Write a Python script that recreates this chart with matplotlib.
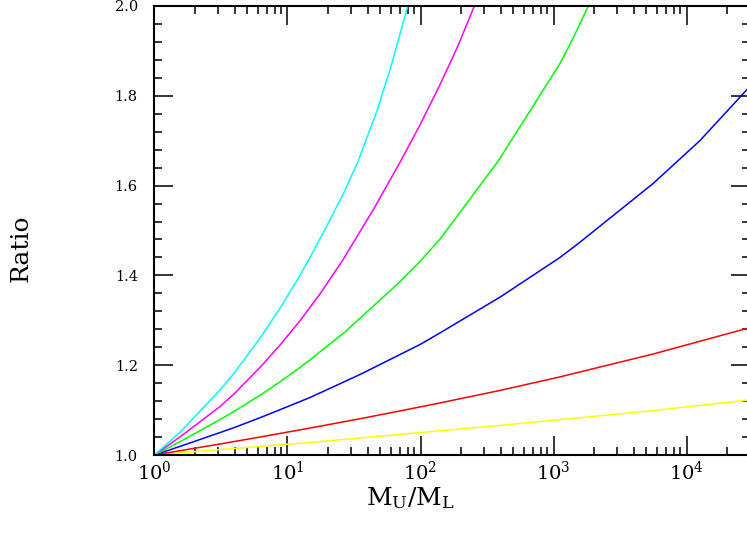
import matplotlib
matplotlib.use('Agg')
import matplotlib.pyplot as plt
import numpy as np
from matplotlib.ticker import MultipleLocator, LogLocator, LogFormatterMathtext, NullFormatter

plt.rcParams['font.family'] = 'DejaVu Serif'
plt.rcParams['mathtext.fontset'] = 'dejavuserif'

# log10(M_U/M_L) where each curve was read, and the ratio there
cyan_logx = [0.0, 0.2, 0.4925, 0.598, 0.793, 0.944, 1.094, 1.169, 1.295, 1.420, 1.532, 1.671, 1.783, 1.904]
cyan_y    = [1.0, 1.053, 1.145, 1.182, 1.260, 1.327, 1.400, 1.440, 1.510, 1.582, 1.655, 1.765, 1.870, 2.0]

magenta_logx = [0.0, 0.2, 0.4925, 0.598, 0.793, 0.944, 1.094, 1.250, 1.420, 1.650, 1.846, 1.996, 2.147, 2.280, 2.405]
magenta_y    = [1.0, 1.042, 1.108, 1.136, 1.195, 1.245, 1.299, 1.361, 1.436, 1.549, 1.652, 1.735, 1.825, 1.910, 2.0]

green_logx = [0.0, 0.2, 0.4925, 0.598, 0.793, 0.944, 1.094, 1.169, 1.432, 1.846, 1.996, 2.147, 2.585, 3.049, 3.150, 3.262]
green_y    = [1.0, 1.031, 1.079, 1.097, 1.133, 1.163, 1.195, 1.212, 1.274, 1.386, 1.431, 1.481, 1.655, 1.872, 1.930, 2.0]

blue_logx = [0.0, 0.2, 0.4925, 0.598, 0.793, 0.944, 1.094, 1.169, 1.550, 1.996, 2.147, 2.600, 3.049, 3.199, 3.750, 4.100, 4.455]
blue_y    = [1.0, 1.020, 1.050, 1.061, 1.083, 1.101, 1.119, 1.128, 1.180, 1.246, 1.272, 1.352, 1.440, 1.474, 1.605, 1.700, 1.814]

red_logx = [0.0, 0.2, 0.4925, 0.598, 0.793, 0.944, 1.094, 1.169, 1.550, 1.996, 2.147, 2.600, 3.049, 3.199, 3.750, 4.455]
red_y    = [1.0, 1.010, 1.0245, 1.030, 1.040, 1.048, 1.056, 1.060, 1.081, 1.107, 1.116, 1.144, 1.174, 1.185, 1.225, 1.282]

yellow_logx = [0.0, 0.2, 0.4925, 0.598, 0.793, 0.944, 1.094, 1.169, 1.550, 1.996, 2.147, 2.600, 3.049, 3.199, 3.750, 4.455]
yellow_y    = [1.0, 1.005, 1.012, 1.0145, 1.019, 1.023, 1.026, 1.028, 1.038, 1.050, 1.054, 1.066, 1.079, 1.083, 1.099, 1.122]

curves = [(cyan_logx, cyan_y, '#00ffff'),
          (magenta_logx, magenta_y, '#ff00ff'),
          (green_logx, green_y, '#00ff00'),
          (blue_logx, blue_y, '#0000ff'),
          (red_logx, red_y, '#ff0000'),
          (yellow_logx, yellow_y, '#ffff00')]

fig = plt.figure(figsize=(7.47, 5.35), dpi=100)
ax = fig.add_axes([0.2068, 0.1495, 1.004 - 0.2068, 0.9888 - 0.1495])

for lx, yy, c in curves[::-1]:
    ax.plot(10 ** np.array(lx), yy, color=c, lw=1.1)

ax.set_xscale('log')
ax.set_xlim(1, 3e4)
ax.set_ylim(1.0, 2.0)

ax.xaxis.set_major_locator(LogLocator(base=10))
ax.xaxis.set_minor_locator(LogLocator(base=10, subs=np.arange(2, 10)))
ax.xaxis.set_major_formatter(LogFormatterMathtext())
ax.xaxis.set_minor_formatter(NullFormatter())
ax.yaxis.set_major_locator(MultipleLocator(0.2))
ax.yaxis.set_minor_locator(MultipleLocator(0.04))
ax.yaxis.set_major_formatter(plt.FuncFormatter(lambda v, p: '%.1f' % v))

ax.tick_params(which='both', direction='in', top=True, right=True, width=1.1, colors='black')
ax.tick_params(which='major', length=14)
ax.tick_params(which='minor', length=5.5)
ax.tick_params(axis='x', labelsize=14, pad=4)
ax.tick_params(axis='y', labelsize=10.5, pad=12)
for s in ax.spines.values():
    s.set_linewidth(1.5)

ax.set_xlabel(r'$\mathrm{M_U/M_L}$', fontsize=18)
ax.xaxis.set_label_coords(0.429, -0.068)
ax.set_ylabel('Ratio', fontsize=18)
ax.yaxis.set_label_coords(-0.204, 0.461)

fig.savefig('out.png', dpi=100)
